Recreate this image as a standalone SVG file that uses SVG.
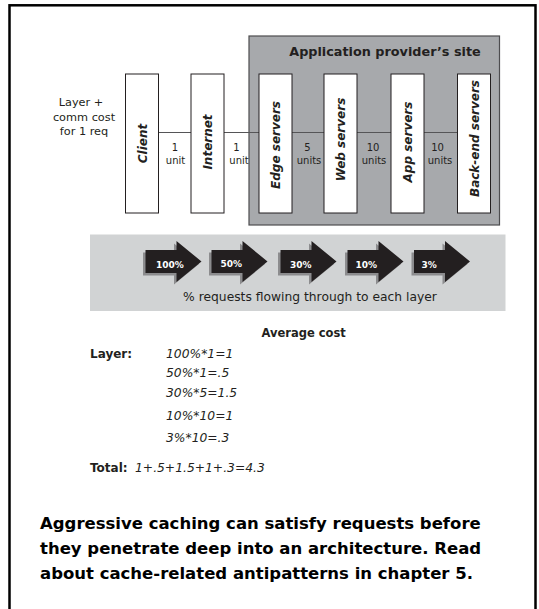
<svg xmlns="http://www.w3.org/2000/svg" width="539" height="609" viewBox="0 0 539 609">
<defs>
<style>
text{font-family:"DejaVu Sans","Liberation Sans",sans-serif;fill:#231f20}
.box{fill:#fff;stroke:#231f20;stroke-width:1}
.lbl{font-weight:bold;font-style:italic;font-size:12px;text-anchor:middle}
.unit{font-size:10px;text-anchor:middle}
.conn{stroke:#555557;stroke-width:1;fill:none}
.pct{font-weight:bold;font-size:9px;fill:#fff}
.calc{font-style:italic;font-size:12.3px}
.b12{font-weight:bold;font-size:12px}
.cap{font-weight:bold;font-size:16.5px;fill:#000}
</style>
<path id="arr" d="M0,-11.5 H31 V-20.5 L56,0 L31,20.5 V11.5 H0 Z"/>
</defs>
<rect x="9.5" y="5.3" width="526" height="620" fill="#fff" stroke="#000" stroke-width="2.5"/>
<g id="site">
<rect x="249" y="36" width="250.5" height="189" fill="#a7a9ac" stroke="#4d4d4f" stroke-width="1.2"/>
<text x="385" y="56" font-weight="bold" font-size="12.8" text-anchor="middle">Application provider’s site</text>
</g>
<g id="cost-caption" font-size="11.3" text-anchor="middle">
<text x="81" y="106">Layer +</text>
<text x="84" y="120.7">comm cost</text>
<text x="84" y="135">for 1 req</text>
</g>
<g id="connectors">
<path class="conn" d="M158.5,132.5 H191 M224,132.5 H259 M292,132.5 H324 M357,132.5 H391 M424,132.5 H457.5"/>
<text class="unit" x="175" y="150.5">1</text><text class="unit" x="175.5" y="164">unit</text>
<text class="unit" x="236.5" y="150.5">1</text><text class="unit" x="239" y="164">unit</text>
<text class="unit" x="307.5" y="150.5">5</text><text class="unit" x="309" y="164">units</text>
<text class="unit" x="373" y="150.5">10</text><text class="unit" x="374" y="164">units</text>
<text class="unit" x="437.5" y="150.5">10</text><text class="unit" x="440" y="164">units</text>
</g>
<g id="client"><rect class="box" x="125.5" y="74" width="33" height="139"/><text class="lbl" transform="translate(146.5,143.5) rotate(-90)">Client</text></g>
<g id="internet"><rect class="box" x="191" y="74" width="33" height="139"/><text class="lbl" transform="translate(212,142) rotate(-90)">Internet</text></g>
<g id="edge"><rect class="box" x="259" y="74" width="33" height="139"/><text class="lbl" transform="translate(280,145) rotate(-90)">Edge servers</text></g>
<g id="web"><rect class="box" x="324" y="74" width="33" height="139"/><text class="lbl" transform="translate(345,139.5) rotate(-90)">Web servers</text></g>
<g id="app"><rect class="box" x="391" y="74" width="33" height="139"/><text class="lbl" transform="translate(412,142) rotate(-90)">App servers</text></g>
<g id="backend"><rect class="box" x="457.5" y="74" width="33" height="139"/><text class="lbl" transform="translate(478.5,138.5) rotate(-90)">Back-end servers</text></g>
<g id="flow">
<rect x="90" y="234.5" width="415.5" height="76.5" fill="#d1d3d4"/>
<g fill="#8c8c8e">
<use href="#arr" transform="translate(143,264)"/>
<use href="#arr" transform="translate(209,264)"/>
<use href="#arr" transform="translate(278,264)"/>
<use href="#arr" transform="translate(345,264)"/>
<use href="#arr" transform="translate(411.5,264)"/>
</g>
<g fill="#231f20">
<use href="#arr" transform="translate(145.5,261.5)"/>
<use href="#arr" transform="translate(211.5,261.5)"/>
<use href="#arr" transform="translate(280.5,261.5)"/>
<use href="#arr" transform="translate(347.5,261.5)"/>
<use href="#arr" transform="translate(414,261.5)"/>
</g>
<text class="pct" x="156" y="267.5">100%</text>
<text class="pct" x="220.5" y="266.5">50%</text>
<text class="pct" x="290" y="267.5">30%</text>
<text class="pct" x="355.5" y="267.5">10%</text>
<text class="pct" x="421.5" y="267.5">3%</text>
<text x="310" y="301" font-size="12.3" text-anchor="middle">% requests flowing through to each layer</text>
</g>
<g id="average">
<text x="261.5" y="337.3" font-weight="bold" font-size="11.5">Average cost</text>
<text class="b12" x="90" y="357.7">Layer:</text>
<text class="calc" x="166" y="357.7">100%*1=1</text>
<text class="calc" x="166" y="377.3">50%*1=.5</text>
<text class="calc" x="166" y="397.3">30%*5=1.5</text>
<text class="calc" x="166" y="420">10%*10=1</text>
<text class="calc" x="166" y="441.7">3%*10=.3</text>
<text class="b12" x="90" y="472.3">Total:</text>
<text class="calc" x="135" y="472.3">1+.5+1.5+1+.3=4.3</text>
</g>
<g id="caption">
<text class="cap" x="40" y="529">Aggressive caching can satisfy requests before</text>
<text class="cap" x="40" y="554">they penetrate deep into an architecture. Read</text>
<text class="cap" x="40" y="579">about cache-related antipatterns in chapter 5.</text>
</g>
</svg>
